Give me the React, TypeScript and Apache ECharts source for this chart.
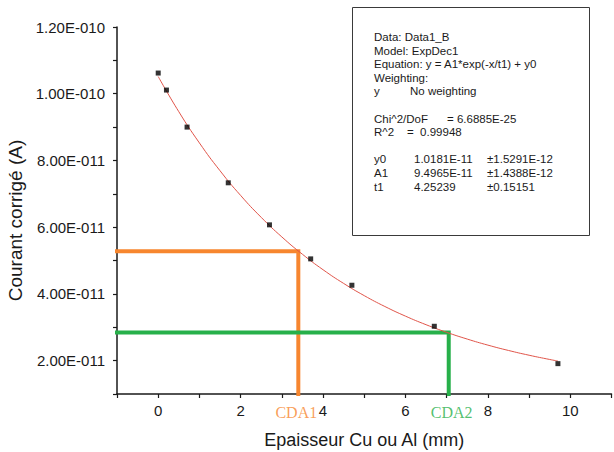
import React, { useEffect, useRef } from "react";
import * as echarts from "echarts";

// Measured points (Epaisseur, Courant corrigé)
const xData = [0, 0.2, 0.7, 1.7, 2.7, 3.7, 4.7, 6.7, 9.7];
const yData = [1.062e-10, 1.011e-10, 9.0e-11, 7.33e-11, 6.07e-11, 5.05e-11, 4.26e-11, 3.03e-11, 1.91e-11];

// Fitted ExpDec1 curve
const fitX = [0, 0.5, 1, 1.5, 2, 2.5, 3, 3.5, 4, 4.5, 5, 5.5, 6, 6.5, 7, 7.5, 8, 8.5, 9, 9.5, 9.7];
const fitY = [
  1.0515e-10, 9.461e-11, 8.525e-11, 7.692e-11, 6.951e-11, 6.294e-11, 5.708e-11, 5.188e-11,
  4.725e-11, 4.314e-11, 3.948e-11, 3.623e-11, 3.334e-11, 3.077e-11, 2.849e-11, 2.646e-11,
  2.465e-11, 2.305e-11, 2.162e-11, 2.035e-11, 1.988e-11,
];

// Reference (CDA) lines
const cda1 = { x: 3.4, y: 5.28e-11, label: "CDA1" };
const cda2 = { x: 7.05, y: 2.84e-11, label: "CDA2" };

const yTickValues = [2e-11, 4e-11, 6e-11, 8e-11, 1e-10, 1.2e-10];
const yTickLabels = ["2.00E-011", "4.00E-011", "6.00E-011", "8.00E-011", "1.00E-010", "1.20E-010"];
const xTickValues = [0, 2, 4, 6, 8, 10];
const xTickLabels = ["0", "2", "4", "6", "8", "10"];

const boxLines: [string, string, string][] = [
  ["Data: Data1_B", "", ""],
  ["Model: ExpDec1", "", ""],
  ["Equation: y = A1*exp(-x/t1) + y0", "", ""],
  ["Weighting:", "", ""],
  ["y", "No weighting", ""],
  ["", "", ""],
  ["Chi^2/DoF", "", "= 6.6885E-25"],
  ["R^2", "=  0.99948", ""],
  ["", "", ""],
  ["y0", "1.0181E-11", "±1.5291E-12"],
  ["A1", "9.4965E-11", "±1.4388E-12"],
  ["t1", "4.25239", "±0.15151"],
];

const ORANGE = "#F7862F";
const GREEN = "#27B04A";
const FONT = "'Liberation Sans', Arial, sans-serif";

export default function App() {
  const ref = useRef<HTMLDivElement>(null);
  useEffect(() => {
    if (!ref.current) return;
    const chart = echarts.init(ref.current, null, { renderer: "svg" });

    const boxTexts: any[] = [];
    const lineH = 13.6;
    const y0 = 37;
    boxLines.forEach((row, i) => {
      const yy = y0 + i * lineH;
      const cols = [374, i === 7 ? 407 : i === 4 ? 410 : 414, i === 6 ? 447 : 487];
      row.forEach((t, j) => {
        if (!t) return;
        boxTexts.push({
          type: "text",
          x: cols[j],
          y: yy,
          style: {
            text: t,
            fill: "#1a1a1a",
            font: `11.5px ${FONT}`,
            textVerticalAlign: "middle",
          },
        });
      });
    });

    const labelFmt = (vals: number[], labels: string[]) => (v: number) => {
      const i = vals.findIndex((t) => Math.abs(t - v) < Math.abs(t) * 1e-6 + 1e-15);
      return i >= 0 ? labels[i] : "";
    };

    chart.setOption({
      animation: false,
      backgroundColor: "#ffffff",
      grid: { left: 117, right: 2.5, top: 27, bottom: 58, containLabel: false, outerBoundsMode: "none" },
      xAxis: {
        type: "value",
        min: -1,
        max: 11,
        interval: 1,
        name: "Epaisseur Cu ou Al (mm)",
        nameLocation: "middle",
        nameGap: 37,
        nameTextStyle: { fontFamily: FONT, fontSize: 18, color: "#1a1a1a" },
        axisLine: { show: true, onZero: false, lineStyle: { color: "#1a1a1a", width: 1.5 } },
        axisTick: { show: true, inside: false, length: 4, lineStyle: { color: "#1a1a1a", width: 1.2 } },
        axisLabel: {
          formatter: labelFmt(xTickValues, xTickLabels),
          fontFamily: FONT,
          fontSize: 15,
          color: "#1a1a1a",
          margin: 9,
          showMinLabel: true,
          showMaxLabel: true,
        },
        splitLine: { show: false },
      },
      yAxis: {
        type: "value",
        min: 1e-11,
        max: 1.2e-10,
        interval: 1e-11,
        name: "Courant corrigé (A)",
        nameLocation: "middle",
        nameGap: 90,
        nameTextStyle: { fontFamily: FONT, fontSize: 19, color: "#1a1a1a", padding: [0, 20, 0, 0] },
        axisLine: { show: true, onZero: false, lineStyle: { color: "#1a1a1a", width: 1.5 } },
        axisTick: { show: true, inside: false, length: 4, lineStyle: { color: "#1a1a1a", width: 1.2 } },
        axisLabel: {
          formatter: labelFmt(yTickValues, yTickLabels),
          fontFamily: FONT,
          fontSize: 15,
          color: "#1a1a1a",
          margin: 12,
          showMinLabel: true,
          showMaxLabel: true,
        },
        splitLine: { show: false },
      },
      series: [
        {
          name: "CDA1 line",
          type: "line",
          data: [
            [-1, cda1.y],
            [cda1.x, cda1.y],
            [cda1.x, 1e-11],
          ],
          symbol: "none",
          lineStyle: { color: ORANGE, width: 4, cap: "square", join: "miter" },
          z: 1,
        },
        {
          name: "CDA2 line",
          type: "line",
          data: [
            [-1, cda2.y],
            [cda2.x, cda2.y],
            [cda2.x, 1e-11],
          ],
          symbol: "none",
          lineStyle: { color: GREEN, width: 4, cap: "square", join: "miter" },
          z: 1,
        },
        {
          name: "Fit",
          type: "line",
          data: fitX.map((x, i) => [x, fitY[i]]),
          symbol: "none",
          smooth: true,
          lineStyle: { color: "#e0554a", width: 1 },
          z: 3,
        },
        {
          name: "Data1_B",
          type: "scatter",
          data: xData.map((x, i) => [x, yData[i]]),
          symbol: "rect",
          symbolSize: 5,
          itemStyle: { color: "#000000" },
          z: 4,
        },
        {
          name: "CDA labels",
          type: "scatter",
          symbolSize: 1,
          itemStyle: { color: "transparent" },
          data: [
            {
              value: [cda1.x, 1e-11],
              label: { show: true, formatter: cda1.label, color: ORANGE, offset: [-2, 0] },
            },
            {
              value: [cda2.x, 1e-11],
              label: { show: true, formatter: cda2.label, color: GREEN, offset: [3, 0] },
            },
          ],
          label: {
            position: "bottom",
            distance: 10,
            fontFamily: "'Liberation Serif', 'Times New Roman', serif",
            fontSize: 16,
          },
          z: 5,
        },
      ],
      graphic: [
        {
          type: "group",
          children: [
            {
              type: "rect",
              shape: { x: 352.5, y: 7.5, width: 237, height: 228 },
              style: { fill: "#ffffff", stroke: "#3a3a3a", lineWidth: 1 },
            },
            ...boxTexts,
          ],
        },
      ],
    });
    return () => chart.dispose();
  }, []);
  return (
    <div
      ref={ref}
      style={{ position: "fixed", left: 0, top: 0, width: 614, height: 452, background: "#fff" }}
    />
  );
}
